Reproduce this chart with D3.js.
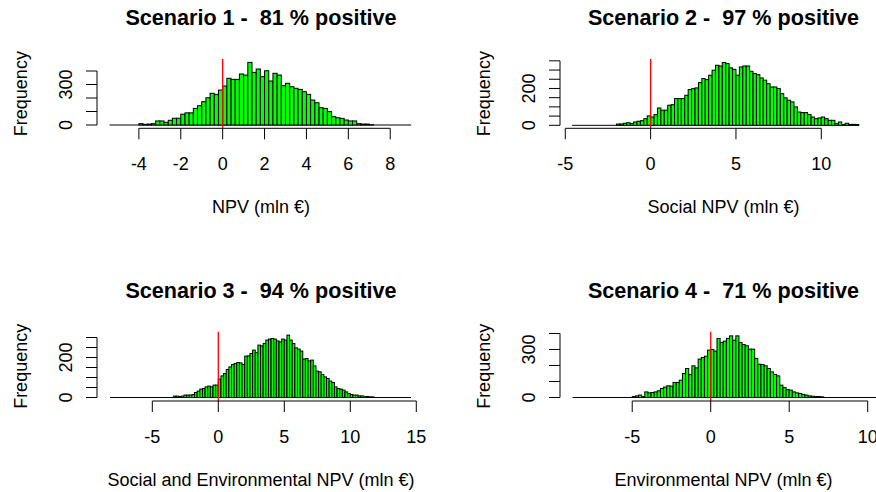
<!DOCTYPE html>
<html>
<head>
<meta charset="utf-8">
<script src="https://cdn.jsdelivr.net/npm/d3@7"></script>
<style>
  html, body { margin: 0; padding: 0; background: #fff; }
  svg { display: block; }
  text { font-family: "Liberation Sans", Arial, sans-serif; fill: #000; white-space: pre; }
</style>
</head>
<body>
<div id="chart"></div>
<script>
// ---------------- data ----------------
const titles = [
  "Scenario 1 -  81 % positive",
  "Scenario 2 -  97 % positive",
  "Scenario 3 -  94 % positive",
  "Scenario 4 -  71 % positive"
];
const xLabels = [
  "NPV (mln \u20AC)",
  "Social NPV (mln \u20AC)",
  "Social and Environmental NPV (mln \u20AC)",
  "Environmental NPV (mln \u20AC)"
];
const yLabel = "Frequency";
const binWidth = 0.2;

// first bin start and counts per scenario
const binStart1 = -4.0;
const counts1 = [10,5,7,10,30,30,20,35,50,50, 80,90,90,123,143,173,202,235,227,259,
  289,346,338,338,378,370,464,390,415,358, 402,326,383,370,291,309,284,272,264,247,
  227,185,165,128,123,99,62,54,49,37, 30,30,10,7,7,2];
const binStart2 = -2.0;
const counts2 = [7,7,11,14,9,18,22,25,36,51, 45,58,94,82,82,109,112,145,145,145,
  163,194,199,203,232,254,248,272,299,326, 322,341,335,312,304,272,317,322,322,293,
  281,275,257,245,226,208,208,199,172,149, 136,127,100,72,69,69,58,45,36,40,
  45,36,27,27,9,18,4,11,5,5, 4];
const binStart3 = -3.4;
const counts3 = [7,7,5,7,12,12,12,15,25,32, 42,45,53,57,53,62,62,92,108,120,
  140,153,165,170,175,173,165,207,208,220, 237,225,262,258,270,287,292,295,292,283,
  278,292,287,312,287,270,248,242,232,192, 195,183,187,158,132,128,115,103,95,82,
  75,53,45,42,37,28,20,15,12,12, 8,8,5,5,3,3];
const binStart4 = -5.0;
const counts4 = [6,10,15,6,35,29,31,35,42,56,65,73,71,94,94,108,150,181,144,198,185,240,250,258,
  296,300,290,369,344,352,369,385,358,385,344,331,323,302,302,244,208,206,198,181,160,144,135,77,
  62,50,46,35,29,25,19,15,10,8,6,6,4];

// range of histogram breaks (zero-count bins drawn as the baseline)
const breaks1 = [-5.4, 9.0];
const breaks2 = [-4.6, 12.2];
const breaks3 = [-8.2, 14.6];
const breaks4 = [-8.8, 10.6];

// axis limits (plot region)
const xlim1 = [-6.0, 9.66],  ylim1 = [-24.4, 489];
const xlim2 = [-5.31, 13.85], ylim2 = [-16.3, 360];
const xlim3 = [-9.19, 15.66], ylim3 = [-17.5, 329];
const xlim4 = [-9.60, 11.23], ylim4 = [-21.9, 411];

// ticks
const xTicks1 = [-4,-2,0,2,4,6,8];
const xTicks2 = [-5,0,5,10];
const xTicks3 = [-5,0,5,10,15];
const xTicks4 = [-5,0,5,10];
const yTicks1 = [0,100,200,300,400], yTickLabels1 = ["0","","","300",""];
const yTicks2 = [0,50,100,150,200,250,300,350], yTickLabels2 = ["0","","","","200","","",""];
const yTicks3 = [0,50,100,150,200,250,300], yTickLabels3 = ["0","","","","200","",""];
const yTicks4 = [0,100,200,300,400], yTickLabels4 = ["0","","","300",""];

// ---------------- layout ----------------
const W = 876, H = 492;
const cols = [{left: 97, right: 425}, {left: 560, right: 887}];
const rows = [{top: 59, bottom: 128.3}, {top: 331.7, bottom: 401}];

const panels = [
  {title: titles[0], xlab: xLabels[0], start: binStart1, counts: counts1, breaks: breaks1, xlim: xlim1, ylim: ylim1, xt: xTicks1, yt: yTicks1, ytl: yTickLabels1, col: 0, row: 0},
  {title: titles[1], xlab: xLabels[1], start: binStart2, counts: counts2, breaks: breaks2, xlim: xlim2, ylim: ylim2, xt: xTicks2, yt: yTicks2, ytl: yTickLabels2, col: 1, row: 0},
  {title: titles[2], xlab: xLabels[2], start: binStart3, counts: counts3, breaks: breaks3, xlim: xlim3, ylim: ylim3, xt: xTicks3, yt: yTicks3, ytl: yTickLabels3, col: 0, row: 1},
  {title: titles[3], xlab: xLabels[3], start: binStart4, counts: counts4, breaks: breaks4, xlim: xlim4, ylim: ylim4, xt: xTicks4, yt: yTicks4, ytl: yTickLabels4, col: 1, row: 1}
];

const svg = d3.select("#chart").append("svg")
  .attr("width", W).attr("height", H)
  .attr("viewBox", `0 0 ${W} ${H}`);

const TICK = 11;

panels.forEach(p => {
  const c = cols[p.col], r = rows[p.row];
  const x = d3.scaleLinear().domain(p.xlim).range([c.left, c.right]);
  const y = d3.scaleLinear().domain(p.ylim).range([r.bottom, r.top]);
  const g = svg.append("g");
  const cx = (c.left + c.right) / 2;
  const cy = (r.top + r.bottom) / 2;

  // baseline over the full range of breaks (zero-count bins)
  g.append("line")
    .attr("x1", x(p.breaks[0])).attr("x2", x(p.breaks[1]))
    .attr("y1", y(0)).attr("y2", y(0))
    .attr("stroke", "#000").attr("stroke-width", 1);

  // bars
  const bins = p.counts.map((v, i) => ({x0: p.start + i * binWidth, x1: p.start + (i + 1) * binWidth, n: v}));
  g.selectAll("rect.bar").data(bins).enter().append("rect")
    .attr("class", "bar")
    .attr("x", d => x(d.x0))
    .attr("width", d => x(d.x1) - x(d.x0))
    .attr("y", d => y(d.n))
    .attr("height", d => y(0) - y(d.n))
    .attr("fill", "#00ff00")
    .attr("stroke", "#000")
    .attr("stroke-width", 1);

  // red zero line across the plot region
  g.append("line")
    .attr("x1", x(0)).attr("x2", x(0))
    .attr("y1", r.top).attr("y2", r.bottom)
    .attr("stroke", "#ff0000").attr("stroke-width", 1.3);

  // x axis (R style: line from first to last tick at region bottom)
  const xa = g.append("g");
  xa.append("line")
    .attr("x1", x(p.xt[0])).attr("x2", x(p.xt[p.xt.length - 1]))
    .attr("y1", r.bottom).attr("y2", r.bottom)
    .attr("stroke", "#000");
  xa.selectAll("line.tk").data(p.xt).enter().append("line")
    .attr("class", "tk")
    .attr("x1", d => x(d)).attr("x2", d => x(d))
    .attr("y1", r.bottom).attr("y2", r.bottom + TICK)
    .attr("stroke", "#000");
  xa.selectAll("text").data(p.xt).enter().append("text")
    .attr("x", d => x(d)).attr("y", r.bottom + 41.7)
    .attr("text-anchor", "middle")
    .attr("font-size", 18)
    .text(d => d < 0 ? "-" + Math.abs(d) : String(d));

  // y axis
  const ya = g.append("g");
  ya.append("line")
    .attr("x1", c.left).attr("x2", c.left)
    .attr("y1", y(p.yt[0])).attr("y2", y(p.yt[p.yt.length - 1]))
    .attr("stroke", "#000");
  ya.selectAll("line.tk").data(p.yt).enter().append("line")
    .attr("class", "tk")
    .attr("x1", c.left - TICK).attr("x2", c.left)
    .attr("y1", d => y(d)).attr("y2", d => y(d))
    .attr("stroke", "#000");
  ya.selectAll("text").data(p.yt.map((v, i) => ({v, l: p.ytl[i]})).filter(d => d.l !== ""))
    .enter().append("text")
    .attr("transform", d => `translate(${c.left - 25.3},${y(d.v)}) rotate(-90)`)
    .attr("text-anchor", "middle")
    .attr("font-size", 18)
    .text(d => d.l);

  // axis titles
  g.append("text")
    .attr("transform", `translate(${c.left - 69.7},${cy}) rotate(-90)`)
    .attr("text-anchor", "middle")
    .attr("font-size", 18)
    .text(yLabel);
  g.append("text")
    .attr("x", cx).attr("y", r.bottom + 84.7)
    .attr("text-anchor", "middle")
    .attr("font-size", 18)
    .text(p.xlab);

  // main title
  g.append("text")
    .attr("x", cx).attr("y", r.top - 34)
    .attr("text-anchor", "middle")
    .attr("font-size", 21.6)
    .attr("font-weight", "bold")
    .text(p.title);
});
</script>
</body>
</html>
